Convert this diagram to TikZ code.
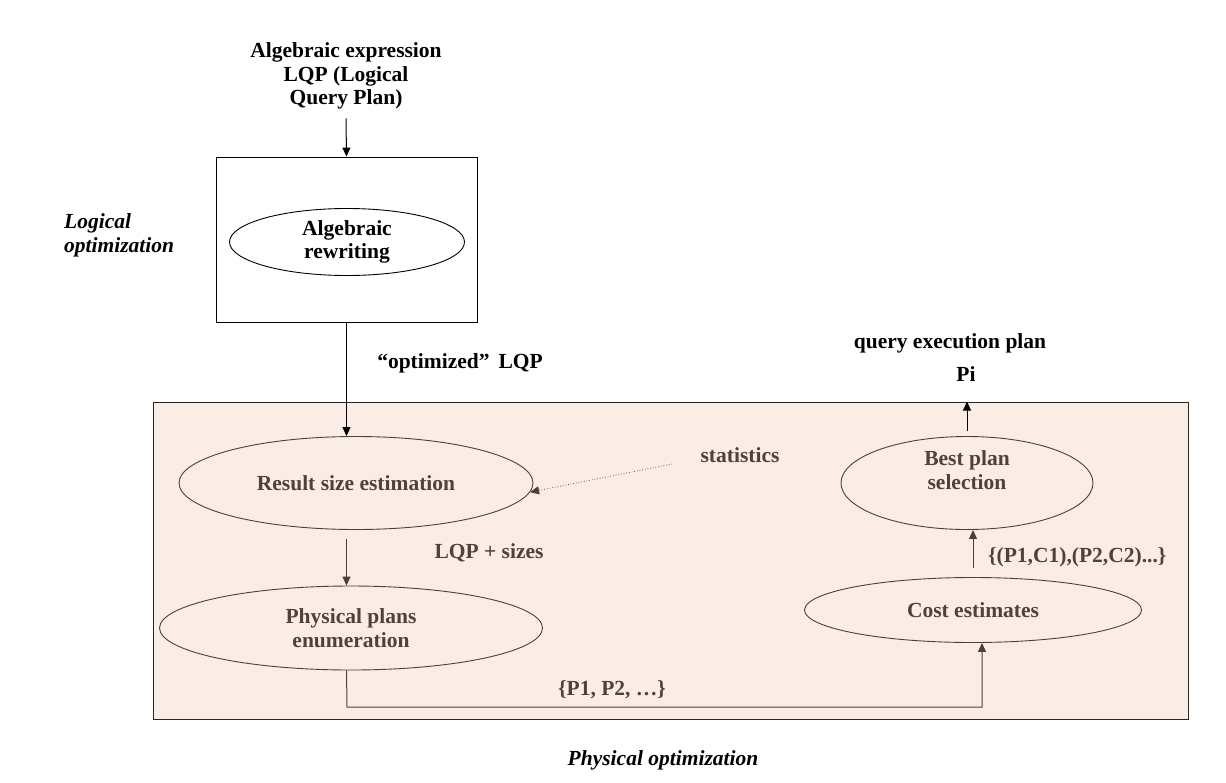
\documentclass[tikz,border=0pt]{standalone}
\usepackage{fontspec}
\setmainfont{Liberation Serif}
\usetikzlibrary{arrows.meta,shapes.geometric}
\definecolor{pinkfill}{RGB}{250,237,229}
\definecolor{browntext}{RGB}{80,66,58}
\definecolor{brownline}{RGB}{78,64,57}
\definecolor{boxline}{RGB}{45,36,32}
\tikzset{
  txt/.style={font=\fontsize{21.5}{23.5}\selectfont\bfseries, inner sep=0pt, align=center},
  itxt/.style={font=\fontsize{21.5}{23.5}\selectfont\bfseries\itshape, inner sep=0pt},
  intxt/.style={txt, text=browntext},
  ell/.style={ellipse, draw=brownline, line width=0.9pt, inner sep=0pt, text=browntext,
     font=\fontsize{21.5}{23.5}\selectfont\bfseries, align=center},
  blackell/.style={ellipse, draw=black, line width=0.9pt, inner sep=0pt,
     font=\fontsize{21.5}{23.5}\selectfont\bfseries, align=center},
  arr/.style={-{Triangle[length=9pt,width=8pt]}, line width=1pt},
  brarr/.style={arr, draw=brownline},
}
\begin{document}
\begin{tikzpicture}[x=1pt,y=-1pt]
\useasboundingbox (0,0) rectangle (1226,782);
% physical optimization box
\node[draw=boxline, fill=pinkfill, line width=0.9pt, minimum width=1035pt, minimum height=317pt, inner sep=0pt] (pbox) at (670.5,560.5) {};
% logical box
\node[draw=black, line width=0.9pt, minimum width=261pt, minimum height=165pt, inner sep=0pt] (lbox) at (346.5,239.5) {};
\node[blackell, minimum width=235pt, minimum height=67pt] (alg) at (347,242) {Algebraic\\rewriting};
% top text
\node[txt] (top) at (346,76) {Algebraic expression\\LQP (Logical\\Query Plan)};
\node[itxt, anchor=west, align=left] (logopt) at (64,235.5) {Logical\\optimization};
\node[txt] (optlqp) at (460,363) {“optimized”\, LQP};
\node[itxt] (physopt) at (663,760) {Physical optimization};
% physical part
\node[ell, minimum width=354pt, minimum height=93pt] (res) at (356,483) {Result size estimation};
\node[ell, minimum width=383pt, minimum height=84pt] (phys) at (351,628) {Physical plans\\enumeration};
\node[ell, minimum width=337pt, minimum height=65pt] (cost) at (973,610) {Cost estimates};
\node[ell, minimum width=252pt, minimum height=93pt,
  label={[intxt, yshift=13pt]center:{Best plan\\selection}}] (best) at (967,483) {};
\node[intxt] (stat) at (740,455) {statistics};
\coordinate (statsrc) at (672,464);
\node[intxt] (sizes) at (489,553) {LQP + sizes};
\node[intxt] (plist) at (612,690) {\{P1, P2, …\}};
\node[intxt, anchor=west] (pclist) at (988,557) {\{(P1,C1),(P2,C2)...\}};
\node[txt] (qep) at (950,343) {query execution plan};
\node[txt] (pi) at (966,374) {Pi};
\coordinate (corner) at (347,707);
% connectors
\draw[arr] (top.south) ++(0,9) -- (lbox.north);
\draw[arr] (lbox.south) -- (lbox.south |- res.north);
\draw[brarr, shorten <=9pt] (lbox.south |- res.south) -- (lbox.south |- phys.north);
\draw[brarr] (lbox.south |- phys.south) -- (corner) -| ([xshift=9pt]cost.south);
\draw[brarr, shorten <=9pt] (cost.north) -- (cost.north |- best.south);
\draw[arr, shorten <=5pt] (best.north) -- (best.north |- pbox.north);
\draw[-{Triangle[length=9pt,width=8pt]}, draw=brownline, line width=0.7pt, dotted] (statsrc) -- (res.-3);
\end{tikzpicture}
\end{document}
